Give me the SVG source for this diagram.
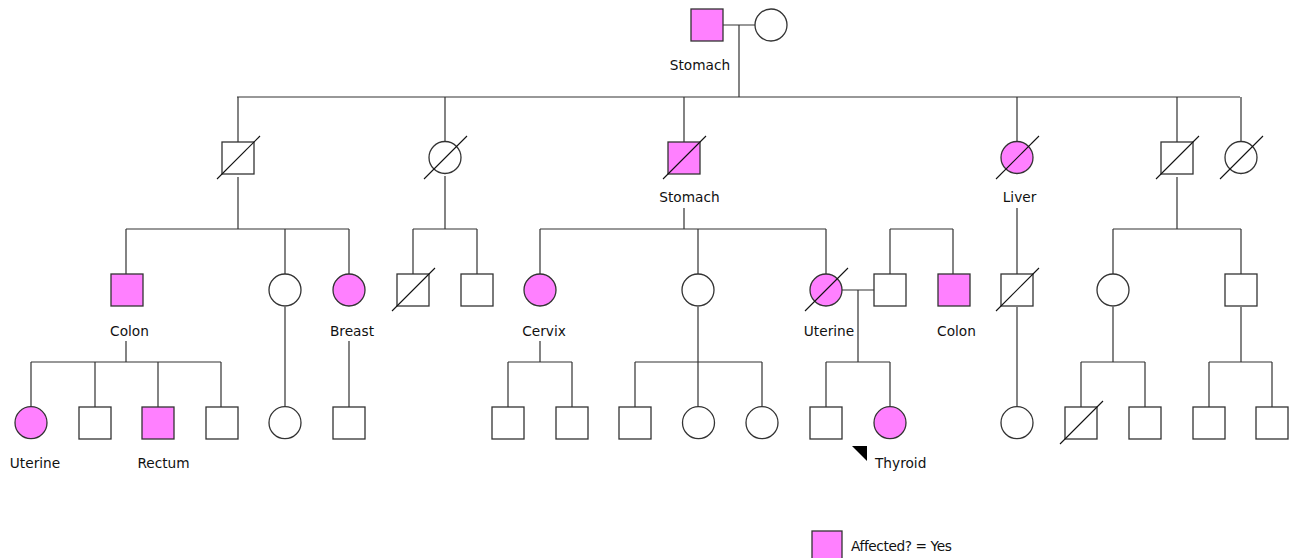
<svg xmlns="http://www.w3.org/2000/svg" width="1295" height="558" viewBox="0 0 1295 558">
<style>
.ln{stroke:#333;stroke-width:1.2;fill:none}
.sym{stroke:#333;stroke-width:1.3;fill:#fff}
.aff{fill:#ff80ff}
.sl{stroke:#111;stroke-width:1.1}
text{font-family:"DejaVu Sans",Verdana,sans-serif;font-size:13.7px;fill:#111}
.c{text-anchor:middle}
</style>
<rect width="1295" height="558" fill="#fff"/>
<g id="connectors" class="ln">
<path d="M723 25H755M739 25V97M237 97H1240"/>
<path d="M238 97V142M445 97V141M684 97V142M1017 97V141M1177 97V142M1241 97V141"/>
<path d="M238 177V229M126 229H349M126 229V274M285 229V274M349 229V274"/>
<path d="M445 176V229M413 229H477M413 229V274M477 229V274"/>
<path d="M684 208V229M540 229H826M540 229V274M698 229V274M826 229V274"/>
<path d="M890 229H953M890 229V274M953 229V274"/>
<path d="M1017 208V274M1017 307V407"/>
<path d="M1177 177V229M1113 229H1241M1113 229V274M1241 229V274"/>
<path d="M126 341V362M31 362H221M31 362V407M95 362V407M158 362V407M221 362V407"/>
<path d="M285 307V407M349 341V407"/>
<path d="M540 341V362M508 362H572M508 362V407M572 362V407"/>
<path d="M698 307V407M635 362H762M635 362V407M762 362V407"/>
<path d="M842 290H874M858 290V362M826 362H890M826 362V407M890 362V407"/>
<path d="M1113 307V362M1081 362H1145M1081 362V407M1145 362V407"/>
<path d="M1241 307V362M1209 362H1272M1209 362V407M1272 362V407"/>
</g>
<g id="n1"><rect class="sym aff" x="691" y="9" width="32" height="32"/><text class="c" x="700" y="70">Stomach</text></g>
<g id="n2"><circle class="sym" cx="771" cy="25" r="16"/></g>
<g id="n3"><rect class="sym" x="222" y="142" width="32" height="32"/><line class="sl" x1="217" y1="179" x2="260" y2="136"/></g>
<g id="n4"><circle class="sym" cx="445" cy="157.5" r="16"/><line class="sl" x1="424" y1="179" x2="467" y2="136"/></g>
<g id="n5"><rect class="sym aff" x="668" y="142" width="32" height="32"/><line class="sl" x1="663" y1="179" x2="706" y2="136"/><text class="c" x="689.5" y="202">Stomach</text></g>
<g id="n6"><circle class="sym aff" cx="1017" cy="157.5" r="16"/><line class="sl" x1="996" y1="179" x2="1039" y2="136"/><text class="c" x="1019.5" y="202">Liver</text></g>
<g id="n7"><rect class="sym" x="1161" y="142" width="32" height="32"/><line class="sl" x1="1156" y1="179" x2="1199" y2="136"/></g>
<g id="n8"><circle class="sym" cx="1241" cy="157.5" r="16"/><line class="sl" x1="1220" y1="179" x2="1263" y2="136"/></g>
<g id="n9"><rect class="sym aff" x="111" y="274" width="32" height="32"/><text class="c" x="129.5" y="336">Colon</text></g>
<g id="n10"><circle class="sym" cx="285" cy="290" r="16"/></g>
<g id="n11"><circle class="sym aff" cx="349" cy="290" r="16"/><text class="c" x="352" y="336">Breast</text></g>
<g id="n12"><rect class="sym" x="397" y="274" width="32" height="32"/><line class="sl" x1="392" y1="311" x2="435" y2="268"/></g>
<g id="n13"><rect class="sym" x="461" y="274" width="32" height="32"/></g>
<g id="n14"><circle class="sym aff" cx="540" cy="290" r="16"/><text class="c" x="544" y="336">Cervix</text></g>
<g id="n15"><circle class="sym" cx="698" cy="290" r="16"/></g>
<g id="n16"><circle class="sym aff" cx="826" cy="290" r="16"/><line class="sl" x1="805" y1="311" x2="848" y2="268"/><text class="c" x="829" y="336">Uterine</text></g>
<g id="n17"><rect class="sym" x="874" y="274" width="32" height="32"/></g>
<g id="n18"><rect class="sym aff" x="938" y="274" width="32" height="32"/><text class="c" x="956.5" y="336">Colon</text></g>
<g id="n19"><rect class="sym" x="1001" y="274" width="32" height="32"/><line class="sl" x1="996" y1="311" x2="1039" y2="268"/></g>
<g id="n20"><circle class="sym" cx="1113" cy="290" r="16"/></g>
<g id="n21"><rect class="sym" x="1225" y="274" width="32" height="32"/></g>
<g id="n22"><circle class="sym aff" cx="31" cy="422.7" r="16"/><text class="c" x="35" y="468">Uterine</text></g>
<g id="n23"><rect class="sym" x="79" y="407" width="32" height="32"/></g>
<g id="n24"><rect class="sym aff" x="142" y="407" width="32" height="32"/><text class="c" x="163.5" y="468">Rectum</text></g>
<g id="n25"><rect class="sym" x="206" y="407" width="32" height="32"/></g>
<g id="n26"><circle class="sym" cx="285" cy="422.7" r="16"/></g>
<g id="n27"><rect class="sym" x="333" y="407" width="32" height="32"/></g>
<g id="n28"><rect class="sym" x="492" y="407" width="32" height="32"/></g>
<g id="n29"><rect class="sym" x="556" y="407" width="32" height="32"/></g>
<g id="n30"><rect class="sym" x="619" y="407" width="32" height="32"/></g>
<g id="n31"><circle class="sym" cx="698.5" cy="422.7" r="16"/></g>
<g id="n32"><circle class="sym" cx="762" cy="422.7" r="16"/></g>
<g id="n33"><rect class="sym" x="810" y="407" width="32" height="32"/></g>
<g id="n34"><circle class="sym aff" cx="890" cy="422.7" r="16"/><polygon points="852,446 867,446 867,461" fill="#000"/><text x="875" y="468">Thyroid</text></g>
<g id="n35"><circle class="sym" cx="1017" cy="422.7" r="16"/></g>
<g id="n36"><rect class="sym" x="1065" y="407" width="32" height="32"/><line class="sl" x1="1060" y1="444" x2="1103" y2="401"/></g>
<g id="n37"><rect class="sym" x="1129" y="407" width="32" height="32"/></g>
<g id="n38"><rect class="sym" x="1193" y="407" width="32" height="32"/></g>
<g id="n39"><rect class="sym" x="1256" y="407" width="32" height="32"/></g>
<g id="legend"><rect class="sym aff" x="812" y="531" width="30" height="30"/><text x="851" y="551" style="letter-spacing:-0.4px">Affected? = Yes</text></g>
</svg>
